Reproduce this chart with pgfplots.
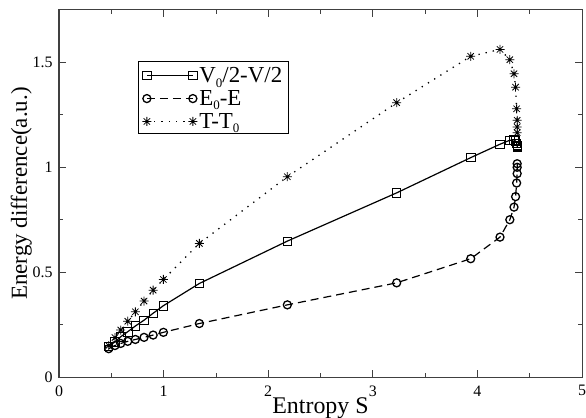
\documentclass[border=0pt]{standalone}
\usepackage{fontspec}
\setmainfont{Liberation Serif}
\usepackage{pgfplots}
\pgfplotsset{compat=1.18}

% grace style star: plus and cross on top of each other
\pgfdeclareplotmark{gstar}{%
  \pgfpathmoveto{\pgfqpoint{-\pgfplotmarksize}{0pt}}\pgfpathlineto{\pgfqpoint{\pgfplotmarksize}{0pt}}%
  \pgfpathmoveto{\pgfqpoint{0pt}{-\pgfplotmarksize}}\pgfpathlineto{\pgfqpoint{0pt}{\pgfplotmarksize}}%
  \pgfpathmoveto{\pgfqpoint{-.707\pgfplotmarksize}{-.707\pgfplotmarksize}}\pgfpathlineto{\pgfqpoint{.707\pgfplotmarksize}{.707\pgfplotmarksize}}%
  \pgfpathmoveto{\pgfqpoint{-.707\pgfplotmarksize}{.707\pgfplotmarksize}}\pgfpathlineto{\pgfqpoint{.707\pgfplotmarksize}{-.707\pgfplotmarksize}}%
  \pgfusepathqstroke}
\newcommand{\sub}[1]{\raisebox{-0.2em}{\fontsize{13}{13}\selectfont #1}}

\begin{document}
\begin{tikzpicture}
  \begin{axis}[
      scale only axis,
      width=523bp, height=367bp,
      xmin=0, xmax=5, ymin=0, ymax=1.75,
      xtick={0,1,2,3,4,5},
      ytick={0,0.5,1,1.5},
      minor x tick num=1, minor y tick num=1,
      xtick pos=both, ytick pos=both,
      tick align=inside,
      major tick length=7bp, minor tick length=4bp,
      every tick/.style={black!75, line width=0.8bp},
      axis line style={black!75, line width=1bp},
      /pgf/number format/assume math mode=true,
      tick label style={font=\fontsize{16}{18}\selectfont},
      xticklabel style={yshift=-5bp},
      yticklabel style={xshift=-3bp},
      xlabel={Entropy S},
      ylabel={Energy difference(a.u.)},
      every axis x label/.style={at={([yshift=-36bp]axis description cs:0.5,0)},
        anchor=base, font=\fontsize{24}{28}\selectfont},
      every axis y label/.style={at={([xshift=-32bp]axis description cs:0,0.5)},
        anchor=base, rotate=90, font=\fontsize{23}{27}\selectfont},
      clip=false,
      legend style={at={(0.151,0.862)}, anchor=north west, draw=black, line width=0.8bp,
        font=\fontsize{23}{26}\selectfont, row sep=0bp, inner xsep=4bp, inner ysep=2bp,
        nodes={inner sep=2bp, text depth=0.15em}},
      legend cell align=left,
      % the invisible path gives each legend row the reference's height
      legend image code/.code={\draw[#1] plot coordinates {(0bp,0bp) (46bp,0bp)};
        \path (0bp,-9bp) (0bp,12bp);},
    ]
    \addplot[black, line width=1.2bp, mark=square, mark size=4.2bp,
      mark options={solid, line width=0.8bp}] coordinates {
      (0.475,0.145) (0.535,0.168) (0.590,0.192) (0.657,0.216) (0.730,0.243)
      (0.813,0.271) (0.900,0.304) (0.998,0.340) (1.342,0.446) (2.183,0.648)
      (3.228,0.878) (3.936,1.046) (4.216,1.110) (4.310,1.129) (4.350,1.130)
      (4.365,1.125) (4.375,1.115) (4.380,1.105) (4.380,1.100) (4.380,1.097)
    };
    \addlegendentry{V\sub{0}/2-V/2\hspace{2bp}}
    \addplot[black, line width=1.2bp, dash pattern=on 8bp off 5bp, mark=o, mark size=4bp,
      mark options={solid, line width=1.3bp}] coordinates {
      (0.475,0.135) (0.535,0.150) (0.590,0.160) (0.657,0.170) (0.730,0.179)
      (0.813,0.189) (0.900,0.200) (0.998,0.213) (1.342,0.255) (2.183,0.344)
      (3.228,0.449) (3.936,0.564) (4.216,0.667) (4.310,0.750) (4.350,0.810)
      (4.365,0.860) (4.375,0.925) (4.380,0.970) (4.380,1.000) (4.380,1.017)
    };
    \addlegendentry{E\sub{0}-E}
    \addplot[black, line width=1.3bp, dash pattern=on 1.3bp off 6bp, mark=gstar, mark size=4.5bp,
      mark options={solid, line width=0.8bp}] coordinates {
      (0.475,0.150) (0.535,0.188) (0.590,0.224) (0.657,0.266) (0.730,0.311)
      (0.813,0.362) (0.900,0.414) (0.998,0.465) (1.342,0.637) (2.183,0.955)
      (3.228,1.308) (3.936,1.529) (4.216,1.562) (4.310,1.513) (4.350,1.446)
      (4.365,1.382) (4.375,1.279) (4.380,1.224) (4.380,1.192) (4.380,1.165)
    };
    \addlegendentry{T-T\sub{0}}
  \end{axis}
  \pgfresetboundingbox
  \path (current axis.south west) ++(-59bp,-40bp) (current axis.north east) ++(4bp,10bp);
\end{tikzpicture}
\end{document}
